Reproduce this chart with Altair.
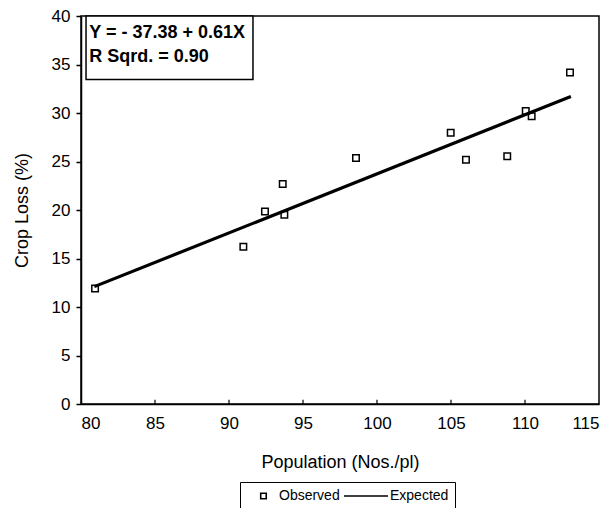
import altair as alt
import pandas as pd

population = [80.95, 90.97, 92.43, 93.63, 93.74, 98.58, 104.98, 106.01, 108.8, 110.05, 110.45, 113.04]
crop_loss = [11.9, 16.2, 19.85, 22.68, 19.5, 25.37, 27.96, 25.17, 25.54, 30.2, 29.67, 34.17]

# Expected (fitted) line endpoints
line_x = [80.9, 113.1]
line_y = [12.1, 31.7]

x_ticks = [80, 85, 90, 95, 100, 105, 110, 115]
y_ticks = [0, 5, 10, 15, 20, 25, 30, 35, 40]
inner_x_ticks = [85, 90, 95, 100, 105, 110]

series_names = ["Observed", "Expected"]
equation_lines = ["Y = - 37.38 + 0.61X", "R Sqrd. = 0.90"]

FONT = "Liberation Sans"

obs = pd.DataFrame({"pop": population, "loss": crop_loss, "series": "Observed"})
fit = pd.DataFrame({"pop": line_x, "loss": line_y})
ticks_df = pd.DataFrame({"t": inner_x_ticks})

xscale = alt.Scale(domain=[80, 115], nice=False, zero=False)
yscale = alt.Scale(domain=[0, 40], nice=False, zero=False)

xaxis = alt.Axis(values=x_ticks, title="Population (Nos./pl)", tickSize=0,
                 labelPadding=11, titlePadding=22)
yaxis = alt.Axis(values=y_ticks, title="Crop Loss (%)", tickSize=5, tickWidth=1.5,
                 labelPadding=6, titlePadding=20)

base_x = alt.X("pop:Q", scale=xscale, axis=xaxis)
base_y = alt.Y("loss:Q", scale=yscale, axis=yaxis)

points = alt.Chart(obs).mark_point(shape="square", filled=False, size=42,
                                   stroke="black", strokeWidth=1.5, opacity=1).encode(
    x=base_x, y=base_y)

line = alt.Chart(fit).mark_line(color="black", strokeWidth=3.2).encode(x="pop:Q", y="loss:Q")

inner_ticks = alt.Chart(ticks_df).mark_rule(color="black", strokeWidth=1.2).encode(
    x="t:Q", y=alt.datum(0), y2=alt.datum(0.45))

sq_path = "M0.96,-0.39H1.75V0.39H0.96Z"
ln_path = "M-3.0,0H3.29"

legend_layer = alt.Chart(obs).mark_point(opacity=0, filled=False).encode(
    x="pop:Q", y="loss:Q",
    shape=alt.Shape("series:N", title=None,
                    scale=alt.Scale(domain=series_names, range=[sq_path, ln_path]),
                    legend=alt.Legend(orient="none", legendX=159, legendY=466,
                                      direction="horizontal", columns=2,
                                      symbolSize=196, symbolStrokeColor="black",
                                      symbolStrokeWidth=1.6, symbolFillColor="transparent",
                                      symbolOpacity=1, labelOffset=17, columnPadding=0,
                                      padding=6, strokeColor="black",
                                      labelFont=FONT, labelFontSize=14, labelColor="black")))

box = alt.Chart().mark_rect(fill="white", stroke="black", strokeWidth=1.5).encode(
    x=alt.datum(80.34), x2=alt.datum(91.62), y=alt.datum(33.45), y2=alt.datum(40))

eq1 = alt.Chart().mark_text(align="left", baseline="middle", font=FONT, fontSize=18,
                            fontWeight="bold", color="black").encode(
    x=alt.datum(80.56), y=alt.datum(38.2), text=alt.value(equation_lines[0]))
eq2 = alt.Chart().mark_text(align="left", baseline="middle", font=FONT, fontSize=18,
                            fontWeight="bold", color="black").encode(
    x=alt.datum(80.56), y=alt.datum(35.75), text=alt.value(equation_lines[1]))

chart = alt.layer(points, line, inner_ticks, legend_layer, box, eq1, eq2).properties(
    width=518, height=388,
    autosize=alt.AutoSizeParams(type="none"),
    padding={"left": 73, "top": 8, "right": 6, "bottom": 104},
    background="white",
).configure_view(stroke="black", strokeWidth=1.5).configure_axis(
    grid=False, domainColor="black", domainWidth=1.5, tickColor="black",
    labelFont=FONT, labelFontSize=17, labelColor="black",
    titleFont=FONT, titleFontSize=18, titleFontWeight="normal", titleColor="black",
)

chart.save("out.html", embed_options={"renderer": "svg", "actions": False})
